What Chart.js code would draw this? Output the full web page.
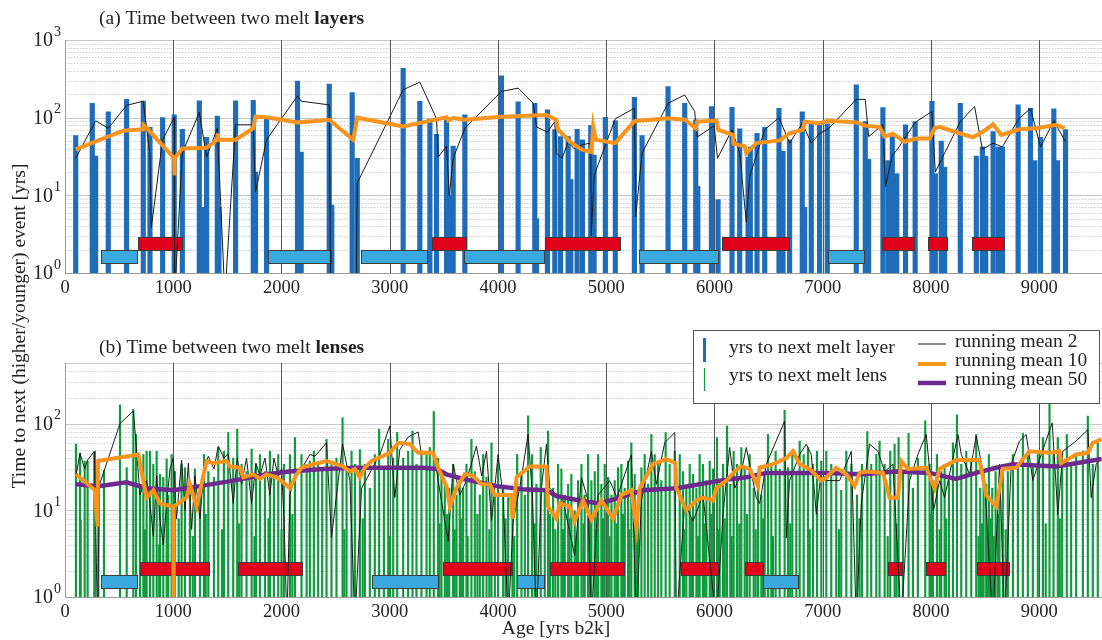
<!DOCTYPE html>
<html>
<head>
<meta charset="utf-8">
<script src="https://cdn.jsdelivr.net/npm/chart.js@4.4.1/dist/chart.umd.min.js"></script>
<style>
  body { margin: 0; background: #fff; width: 1102px; height: 640px; overflow: hidden; position: relative; }
  canvas { position: absolute; left: 0; top: 0; }
</style>
</head>
<body>
<canvas id="lenses" width="1102" height="640"></canvas>
<canvas id="layers" width="1102" height="300"></canvas>
<script>
// ---- (a) melt layers ----
const layerAge = [99, 252, 283, 400, 569, 723, 785, 902, 1009, 1084, 1241, 1262, 1308, 1407, 1422, 1576, 1739, 1760, 1862, 2148,
  2182, 2441, 2465, 2653, 2700, 3124, 3278, 3371, 3432, 3525, 3550, 3586, 3694, 4032, 4186, 4340, 4356, 4457, 4525, 4578,
  4648, 4673, 4731, 4780, 4857, 4888, 4992, 5084, 5260, 5331, 5571, 5725, 5827, 5846, 5972, 6033, 6162, 6233, 6310, 6331,
  6393, 6464, 6596, 6633, 6694, 6811, 6833, 6894, 6971, 7042, 7310, 7393, 7424, 7556, 7603, 7643, 7684, 7765, 7854, 8009,
  8040, 8095, 8126, 8271, 8419, 8475, 8506, 8574, 8620, 8660, 8805, 8919, 8959, 9012, 9135, 9169, 9243];
const layerGap = [59, 153, 32, 119, 172, 163, 75, 100, 109, 71, 165, 7, 56, 105, 7, 165, 167, 20, 96, 295,
  36, 270, 7.5, 210, 30, 433, 162, 96, 61, 94, 10, 43, 109, 345, 160, 153, 5, 126, 70, 57,
  57, 16, 71, 52, 79, 33, 101, 91, 183, 59, 251, 153, 94, 13, 139, 8.8, 136, 72, 31, 42,
  63, 75, 132, 37, 52, 119, 7, 87, 85, 83, 265, 89, 29, 135, 28, 57, 19, 81, 89, 162,
  19, 50, 23, 153, 32, 42, 32, 66, 42, 42, 146, 132, 28, 56, 130, 28, 70];

const layMean2Age = [99, 283, 400, 569, 723, 785, 797, 902, 1009, 1012, 1084, 1241, 1308, 1407, 1477, 1576, 1739, 1760, 1862, 2148,
  2182, 2441, 2455, 2690, 2700, 3124, 3278, 3432, 3448, 3525, 3550, 3586, 3694, 4032, 4186, 4325, 4356, 4457, 4525, 4539,
  4592, 4649, 4700, 4780, 4857, 4862, 4888, 5084, 5260, 5272, 5331, 5571, 5725, 5817, 5840, 5997, 6028, 6162, 6233, 6294,
  6325, 6464, 6596, 6694, 6811, 6894, 6971, 7048, 7310, 7393, 7424, 7556, 7580, 7643, 7684, 7854, 8009, 8040, 8126, 8271,
  8403, 8475, 8574, 8660, 8805, 8919, 9012, 9135, 9243];
const layMean2 = [30, 91, 73, 144, 163, 33, 3.8, 52, 101, 0.5, 35, 117, 31, 73, 0.5, 81, 81, 11, 52, 191,
  163, 146, 0.5, 0.5, 14.4, 229, 287, 97, 31, 43, 10, 30, 73, 218, 240, 153, 76, 65, 89, 35,
  30, 49, 40, 45, 47, 3, 18, 97, 132, 5.3, 35, 153, 196, 120, 56, 79, 30, 70, 35, 4.5,
  17.6, 70, 100, 47, 85, 47, 63, 71, 172, 172, 57, 81, 13, 33, 38, 87, 120, 20, 35, 89,
  139, 39, 47, 42, 94, 132, 42, 91, 49];

const layMean10Age = [99, 537, 723, 726, 769, 785, 1009, 1010, 1014, 1084, 1308, 1407, 1410, 1414, 1576, 1739, 1760, 1862, 2148, 2351,
  2441, 2663, 2700, 3124, 3371, 3525, 3540, 3586, 3694, 4032, 4448, 4539, 4555, 4649, 4663, 4771, 4862, 4880, 4902, 5084,
  5260, 5571, 5725, 5827, 5840, 6018, 6033, 6171, 6175, 6279, 6294, 6387, 6602, 6694, 6817, 6833, 6971, 7048, 7310, 7393,
  7525, 7572, 7649, 7756, 7864, 7987, 8033, 8079, 8264, 8387, 8479, 8574, 8650, 8820, 8974, 9158, 9235];
const layMean10 = [39, 68, 71, 80, 71, 66, 30, 18, 30, 40, 41, 52, 63, 52, 52, 73, 103, 101, 87, 91,
  94, 52, 100, 77, 91, 101, 92, 99, 94, 103, 108, 94, 70, 52, 49, 39, 36, 77, 52, 47,
  90, 98, 94, 73, 89, 92, 70, 60, 46, 43, 35, 47, 51, 63, 70, 89, 85, 91, 87, 79,
  76, 57, 62, 49, 54, 54, 73, 76, 63, 56, 66, 82, 60, 71, 73, 81, 73];

const layerRed = [[671, 1078], [3392, 3700], [4432, 5125], [6073, 6688], [7547, 7842], [7971, 8144], [8378, 8673]];
const layerBlue = [[332, 667], [1877, 2456], [2730, 3345], [3687, 4426], [5303, 6036], [7048, 7380]];

// ---- (b) melt lenses ----
const lensAge = [
  101, 139, 145, 182, 209, 271, 276, 308, 360, 508,
  570, 631, 656, 693, 724, 754, 785, 816, 847, 877,
  908, 939, 954, 985, 1016, 1077, 1108, 1154, 1200, 1247,
  1284, 1324, 1376, 1416, 1468, 1508, 1554, 1591, 1631, 1677,
  1724, 1764, 1801, 1847, 1893, 1930, 1970, 2022, 2078, 2124,
  740, 870, 1050, 1180, 1300, 1450, 1610, 1750, 1880, 2000,
  2185, 2232, 2262, 2299, 2339, 2376, 2416, 2462, 2508, 2564,
  2601, 2647, 2678, 2724, 2770, 2816, 2862, 2902, 2946, 2986,
  3032, 3069, 3124, 3170, 3210, 3247, 3293, 3340, 3370, 3407,
  3447, 3478, 3509, 3549, 3586, 3617, 3647, 3678, 3709, 3755,
  3786, 3832, 3863, 3894, 3940, 3971, 4001, 4048, 4094, 4134,
  4177, 4217, 4248, 4278, 4315, 4355, 4395, 4432, 4463, 4509,
  4555, 2100, 2580, 2750, 3000, 3460, 3530, 3600, 3660, 3720,
  3810, 3920, 4070, 4150, 4340, 4480, 4530, 4600, 4660, 4725,
  4586, 4617, 4648, 4678, 4709, 4740, 4771, 4801, 4832, 4863,
  4894, 4925, 4955, 4986, 5017, 5048, 5078, 5109, 5140, 5171,
  5202, 5232, 5263, 5294, 5325, 5355, 5386, 5417, 5448, 5479,
  5509, 5549, 5586, 5633, 5679, 5709, 5740, 5771, 5802, 5833,
  5863, 5894, 5925, 5956, 5986, 6023, 6048, 6079, 6116, 6146,
  6177, 6208, 6248, 6279, 6325, 6362, 6402, 6433, 6464, 6494,
  6525, 6565, 6602, 6648, 6679, 6719, 6756, 6787, 6824, 6864,
  6910, 6947, 6987, 7033, 4790, 4850, 4910, 4970, 5030, 5095,
  5155, 5215, 5280, 5720, 5785, 5850, 5910, 5970, 6035, 6095,
  6160, 6230, 6300, 6380, 6450, 6540, 6700, 6880, 7150, 7340,
  7079, 7125, 7171, 7218, 7264, 7316, 7362, 7412, 7448, 7495,
  7525, 7572, 7624, 7664, 7701, 7741, 7793, 7833, 7879, 7947,
  7987, 8018, 8055, 8095, 8126, 8166, 8203, 8240, 8280, 8326,
  8372, 8418, 8455, 8486, 8510, 8535, 8566, 8597, 8633, 8664,
  8710, 8757, 8803, 8849, 8895, 8941, 8987, 9034, 9095, 9132,
  9172, 9212, 9255, 9295, 9341, 9403, 9449, 9495, 9541, 7600,
  7680, 8000, 8080, 8140, 8440, 8470, 8520, 8550, 8580, 8620,
  8690, 9060, 9190];
const lensGap = [
  58, 46, 7.7, 37, 37, 46, 48, 22, 29, 164,
  31, 146, 75, 18, 44, 48, 48, 34, 48, 26,
  24, 39, 15, 44, 28, 34, 31, 15, 30, 15,
  44, 28, 24, 53, 48, 79, 40, 86, 34, 28,
  51, 34, 44, 28, 48, 28, 44, 34, 44, 69,
  6, 4, 8, 5, 9, 6, 7, 5, 8, 6,
  44, 34, 37, 48, 34, 31, 66, 34, 40, 117,
  31, 48, 34, 50, 34, 18, 44, 86, 31, 66,
  40, 79, 40, 48, 82, 34, 48, 44, 53, 138,
  40, 26, 20, 18, 34, 15, 22, 18, 34, 66,
  28, 15, 44, 24, 60, 15, 34, 18, 14, 12,
  44, 28, 15, 123, 44, 20, 53, 18, 82, 18,
  34, 9, 6, 8, 5, 7, 9, 6, 8, 5,
  9, 6, 8, 5, 7, 9, 6, 6, 8, 5,
  30, 15, 20, 26, 9.8, 22, 34, 15, 44, 22,
  28, 44, 20, 34, 24, 15, 22, 31, 34, 18,
  37, 60, 26, 15, 31, 44, 20, 75, 44, 34,
  22, 79, 34, 48, 44, 28, 18, 34, 26, 18,
  44, 34, 22, 37, 30, 69, 22, 34, 94, 20,
  48, 34, 53, 31, 44, 18, 28, 15, 26, 75,
  34, 48, 30, 143, 31, 48, 26, 63, 44, 53,
  34, 48, 37, 48, 7, 9, 6, 8, 5, 7,
  9, 6, 8, 6, 8, 5, 7, 9, 6, 8,
  5, 7, 9, 6, 8, 5, 7, 6, 6, 8,
  34, 28, 17, 48, 34, 15, 34, 81, 34, 44,
  63, 34, 48, 58, 69, 28, 77, 18, 40, 108,
  34, 22, 44, 28, 34, 22, 60, 126, 34, 48,
  37, 75, 18, 28, 20, 44, 18, 28, 22, 34,
  28, 44, 34, 77, 48, 34, 44, 69, 168, 44,
  69, 34, 75, 34, 44, 48, 122, 34, 63, 5,
  7, 9, 6, 8, 5, 7, 6, 8, 5, 9,
  6, 7, 8];

const lensMean2Age = [
  101, 139, 182, 209, 271, 290, 300, 320, 508, 631,
  656, 693, 724, 754, 785, 816, 847, 877, 908, 939,
  970, 1000, 1030, 1077, 1108, 1140, 1170, 1200, 1247, 1284,
  1324, 1376, 1416, 1468, 1508, 1554, 1591, 1631, 1677, 1724,
  1764, 1801, 1847, 1893, 1930, 1970, 2000, 2022, 2050, 2078,
  2124, 2185, 2262, 2308, 2416, 2462, 2564, 2632, 2678, 2740,
  2909, 3001, 3047, 3093, 3170, 3262, 3293, 3407, 3447, 3540,
  3586, 3647, 3709, 3801, 3850, 3894, 3940, 4001, 4048, 4094,
  4140, 4201, 4278, 4318, 4355, 4401, 4448, 4478, 4601, 4709,
  4771, 4832, 4863, 4925, 5032, 5100, 5232, 5279, 5325, 5417,
  5463, 5540, 5633, 5648, 5725, 5802, 5894, 6017, 6079, 6140,
  6187, 6240, 6294, 6386, 6417, 6479, 6648, 6664, 6694, 6787,
  6848, 6894, 6941, 6987, 7033, 7156, 7264, 7310, 7356, 7433,
  7510, 7572, 7649, 7725, 7802, 7879, 7956, 8024, 8080, 8126,
  8249, 8280, 8356, 8418, 8495, 8572, 8633, 8680, 8741, 8818,
  8880, 8941, 9018, 9120, 9172, 9218, 9341, 9449, 9480, 9526,
  9575];
const lensMean2 = [
  25, 45, 30, 38, 48, 2.5, 0.5, 20, 100, 140,
  60, 15, 20, 22, 12, 5, 25, 8, 4, 12,
  30, 40, 8, 38, 10, 35, 6, 25, 8, 30,
  42, 30, 55, 40, 45, 12, 40, 20, 40, 12,
  35, 25, 40, 15, 40, 25, 30, 9, 0.5, 15,
  25, 30, 44, 42, 60, 4.8, 58, 22, 0.5, 18,
  44, 94, 14, 50, 70, 80, 44, 48, 22, 4.4,
  34, 15, 22, 55, 25, 48, 7.5, 44, 14, 0.5,
  7.5, 18, 75, 15, 0.5, 18, 58, 18, 13, 3,
  24, 13, 0.5, 15, 22, 14, 44, 0.5, 13, 48,
  20, 60, 79, 0.5, 12, 7.5, 15, 0.5, 9, 53,
  18, 25, 53, 14, 12, 34, 107, 4.8, 22, 44,
  58, 44, 9, 28, 22, 22, 48, 0.5, 12, 58,
  48, 28, 34, 0.5, 22, 44, 75, 10, 22, 14,
  75, 44, 26, 72, 22, 0.5, 34, 0.5, 34, 63,
  75, 22, 44, 102, 9, 48, 63, 85, 14, 34,
  40];

const lensMean10Age = [
  101, 277, 300, 306, 677, 693, 754, 816, 877, 1000,
  1002, 1006, 1123, 1154, 1216, 1308, 1370, 1493, 1524, 1616,
  1647, 1739, 1801, 1862, 1954, 2016, 2078, 2139, 2185, 2293,
  2416, 2478, 2570, 2632, 2678, 2724, 2770, 2832, 3001, 3078,
  3186, 3262, 3401, 3447, 3524, 3555, 3617, 3693, 3770, 3847,
  3924, 3971, 4032, 4120, 4134, 4171, 4294, 4448, 4463, 4540,
  4570, 4663, 4709, 4786, 4863, 4955, 5063, 5140, 5232, 5279,
  5309, 5432, 5555, 5640, 5648, 5740, 5833, 5894, 5986, 6017,
  6110, 6187, 6248, 6325, 6402, 6417, 6540, 6664, 6725, 6787,
  6879, 6987, 7033, 7125, 7218, 7294, 7341, 7402, 7556, 7618,
  7695, 7725, 7787, 7956, 8033, 8080, 8233, 8449, 8510, 8603,
  8664, 8787, 8910, 9095, 9187, 9203, 9341, 9449, 9495, 9575];
const lensMean10 = [
  26, 17, 6.5, 37, 44, 34, 14, 17, 12, 11,
  0.5, 11, 14, 20, 11, 37, 35, 37, 32, 31,
  24, 26, 23, 26, 24, 21, 18, 26, 31, 34,
  37, 35, 32, 28, 30, 24, 31, 37, 46, 60,
  58, 46, 46, 31, 19, 11, 18, 26, 25, 20,
  20, 15, 15, 15, 8, 24, 32, 32, 11, 8,
  12, 11, 7.5, 13, 7.8, 13, 8, 15, 17, 6.3,
  18, 34, 39, 35, 18, 10, 13, 14, 13, 18,
  22, 28, 32, 30, 19, 31, 34, 40, 48, 34,
  30, 22, 24, 31, 26, 19, 27, 28, 27, 14,
  14, 37, 30, 31, 18, 30, 38, 38, 15, 11,
  30, 31, 48, 46, 48, 35, 44, 46, 60, 66];

const lensMean50Age = [101, 308, 570, 754, 1000, 1247, 1554, 1862, 2078, 2385,
  2693, 3001, 3309, 3432, 3524, 3678, 3832, 3986, 4232, 4448,
  4540, 4755, 4940, 5125, 5340, 5648, 5863, 6048, 6294, 6479,
  6725, 7033, 7371, 7679, 7987, 8233, 8418, 8603, 8757, 9157,
  9464, 9575];
const lensMean50 = [20, 19, 21, 18, 17, 19, 22, 26, 28, 30,
  31, 31, 31, 30, 26, 23, 21, 19, 17.5, 17,
  14.6, 13, 12, 14, 17, 18, 20, 22, 24, 27,
  27, 27, 26, 28, 27, 23, 27, 31, 34, 32,
  37, 39];

const lensRed = [[692, 1333], [1595, 2185], [3494, 4130], [4478, 5164], [5691, 6032], [6279, 6448], [7602, 7735], [7956, 8125], [8424, 8717]];
const lensBlue = [[332, 668], [2838, 3447], [4177, 4426], [6448, 6771]];

const xTicks = [0, 1000, 2000, 3000, 4000, 5000, 6000, 7000, 8000, 9000];

const SERIF = 'Liberation Serif';
const X_MAX = 9580;
const BLUE = '#1f6cb8', GREEN = '#109a3e', ORANGE = '#f7941d', PURPLE = '#6b2a8c', BLACK = '#1a1a1a';
const RED_BOX = '#e2001a', BLUE_BOX = '#39a9df';

const pts = (xs, ys) => xs.slice(0, Math.min(xs.length, ys.length)).map((x, i) => ({ x, y: ys[i] }));
const font = (size, bold) => (bold ? 'bold ' : '') + size + 'px "' + SERIF + '"';

const decor = {
  id: 'decor',
  beforeDatasetsDraw(chart) {
    const { ctx, chartArea: a, scales: { x, y } } = chart;
    ctx.save();
    ctx.lineWidth = 1;
    for (let e = 0; e <= 3; e++) {
      for (let m = 1; m <= 9; m++) {
        const v = m * Math.pow(10, e);
        if (v > y.max + 1e-6) continue;
        const py = Math.round(y.getPixelForValue(v)) + 0.5;
        ctx.beginPath();
        ctx.setLineDash(m === 1 ? [] : [1.5, 1.5]);
        ctx.strokeStyle = m === 1 ? '#c8c8c8' : '#cdcdcd';
        ctx.moveTo(a.left, py); ctx.lineTo(a.right, py); ctx.stroke();
      }
    }
    ctx.setLineDash([]);
    ctx.strokeStyle = '#c8c8c8';
    ctx.beginPath(); ctx.moveTo(a.left, a.top + 0.5); ctx.lineTo(a.right, a.top + 0.5); ctx.stroke();
    ctx.strokeStyle = '#555';
    xTicks.forEach(v => {
      if (v <= 0) return;
      const px = Math.round(x.getPixelForValue(v)) + 0.5;
      ctx.beginPath(); ctx.moveTo(px, a.top); ctx.lineTo(px, a.bottom); ctx.stroke();
    });
    ctx.strokeStyle = '#9a9a9a';
    ctx.beginPath();
    ctx.moveTo(a.left + 0.5, a.top); ctx.lineTo(a.left + 0.5, a.bottom + 0.5); ctx.lineTo(a.right, a.bottom + 0.5);
    ctx.stroke();
    ctx.restore();
  },
  afterDatasetDraw(chart, args, o) {
    if (chart.data.datasets[args.index].type !== 'bar') return;
    const { ctx, scales: { x, y } } = chart;
    ctx.save();
    const draw = (spans, lo, hi, fill) => spans.forEach(([s, e]) => {
      const x0 = Math.round(x.getPixelForValue(s)) + 0.5, x1 = Math.round(x.getPixelForValue(e)) + 0.5;
      const y0 = Math.round(y.getPixelForValue(hi)) + 0.5, y1 = Math.round(y.getPixelForValue(lo)) + 0.5;
      ctx.fillStyle = fill; ctx.fillRect(x0, y0, x1 - x0, y1 - y0);
      ctx.strokeStyle = '#3c3c3c'; ctx.lineWidth = 1; ctx.strokeRect(x0, y0, x1 - x0, y1 - y0);
    });
    draw(o.blue, o.blueY[0], o.blueY[1], BLUE_BOX);
    draw(o.red, o.redY[0], o.redY[1], RED_BOX);
    ctx.restore();
  },
  afterDraw(chart, args, o) {
    const { ctx, scales: { y } } = chart;
    ctx.save();
    ctx.fillStyle = '#222';
    ctx.textBaseline = 'middle';
    for (let e = 0; e <= 3; e++) {
      if (Math.pow(10, e) > y.max) continue;
      const py = y.getPixelForValue(Math.pow(10, e));
      ctx.font = font(20);
      ctx.textAlign = 'right';
      ctx.fillText('10', 53, py + 1);
      ctx.font = font(14);
      ctx.textAlign = 'left';
      ctx.fillText(String(e), 54, py - 8);
    }
    // panel title, last word bold
    ctx.textAlign = 'left';
    ctx.font = font(19.5);
    ctx.fillText(o.title, 99, o.titleY);
    const w = ctx.measureText(o.title).width;
    ctx.font = font(19.5, true);
    ctx.fillText(o.titleBold, 99 + w, o.titleY);
    ctx.restore();
  }
};

const lensExtras = {
  id: 'lensExtras',
  afterDraw(chart) {
    const { ctx } = chart;
    ctx.save();
    ctx.fillStyle = '#222';
    ctx.textBaseline = 'middle';
    ctx.textAlign = 'center';
    ctx.font = font(19.5);
    ctx.fillText('Age [yrs b2k]', 556, 629);
    ctx.translate(20, 326);
    ctx.rotate(-Math.PI / 2);
    ctx.fillText('Time to next (higher/younger) event [yrs]', 0, 0);
    ctx.restore();

    // legend
    ctx.save();
    ctx.fillStyle = '#fff';
    ctx.fillRect(693.5, 330.5, 406, 73);
    ctx.strokeStyle = '#555'; ctx.lineWidth = 1;
    ctx.strokeRect(693.5, 330.5, 406, 73);
    const vline = (x, y0, y1, c, w) => { ctx.strokeStyle = c; ctx.lineWidth = w; ctx.beginPath(); ctx.moveTo(x, y0); ctx.lineTo(x, y1); ctx.stroke(); };
    const hline = (y, c, w) => { ctx.strokeStyle = c; ctx.lineWidth = w; ctx.beginPath(); ctx.moveTo(918, y); ctx.lineTo(946, y); ctx.stroke(); };
    vline(704.5, 338, 362, BLUE, 3);
    vline(704.5, 368, 391, GREEN, 1.2);
    hline(344, BLACK, 1);
    hline(364, ORANGE, 4);
    hline(383, PURPLE, 4.5);
    ctx.fillStyle = '#222';
    ctx.textBaseline = 'middle';
    ctx.textAlign = 'left';
    ctx.font = font(19.5);
    ctx.fillText('yrs to next melt layer', 729, 348);
    ctx.fillText('yrs to next melt lens', 729, 376);
    ctx.fillText('running mean 2', 955, 342);
    ctx.fillText('running mean 10', 955, 361);
    ctx.fillText('running mean 50', 955, 380);
    ctx.restore();
  }
};

function xScale(h) {
  return {
    type: 'linear', min: 0, max: X_MAX, offset: false,
    grid: { display: false, drawTicks: false }, border: { display: false },
    afterBuildTicks: s => { s.ticks = xTicks.map(v => ({ value: v })); },
    ticks: { maxRotation: 0, autoSkip: false, padding: 4, color: '#222', font: { family: SERIF, size: 18.5 }, callback: v => String(v) },
    afterFit: s => { s.height = h; }
  };
}
function yScale(max) {
  return {
    type: 'logarithmic', min: 1, max,
    grid: { display: false }, border: { display: false },
    ticks: { display: false },
    afterFit: s => { s.width = 65; }
  };
}
const line = (data, color, width, order) => ({
  type: 'line', data, borderColor: color, borderWidth: width, pointRadius: 0, tension: 0, fill: false, order
});

new Chart(document.getElementById('lenses'), {
  type: 'bar',
  data: {
    datasets: [
      line(pts(lensMean10Age, lensMean10), ORANGE, 4, 0),
      line(pts(lensMean50Age, lensMean50), PURPLE, 4.5, 1),
      line(pts(lensMean2Age, lensMean2), BLACK, 1, 2),
      { type: 'bar', label: 'yrs to next melt lens', data: pts(lensAge, lensGap), backgroundColor: GREEN, barThickness: 1.5, order: 3 }
    ]
  },
  options: {
    responsive: false, animation: false, devicePixelRatio: 1, events: [],
    layout: { padding: { top: 363, left: 0, right: 0, bottom: 0 } },
    scales: { x: xScale(43), y: yScale(500) },
    plugins: {
      legend: { display: false }, tooltip: { enabled: false },
      decor: { red: lensRed, blue: lensBlue, redY: [1.8, 2.55], blueY: [1.27, 1.8], title: '(b) Time between two melt ', titleBold: 'lenses', titleY: 348 }
    }
  },
  plugins: [decor, lensExtras]
});

new Chart(document.getElementById('layers'), {
  type: 'bar',
  data: {
    datasets: [
      line(pts(layMean10Age, layMean10), ORANGE, 4, 0),
      line(pts(layMean2Age, layMean2), BLACK, 1, 1),
      { type: 'bar', label: 'yrs to next melt layer', data: pts(layerAge, layerGap), backgroundColor: BLUE, barThickness: 4.5, order: 3 }
    ]
  },
  options: {
    responsive: false, animation: false, devicePixelRatio: 1, events: [],
    layout: { padding: { top: 40, left: 0, right: 0, bottom: 0 } },
    scales: { x: xScale(27), y: yScale(1000) },
    plugins: {
      legend: { display: false }, tooltip: { enabled: false },
      decor: { red: layerRed, blue: layerBlue, redY: [2, 2.95], blueY: [1.35, 2], title: '(a) Time between two melt ', titleBold: 'layers', titleY: 19 }
    }
  },
  plugins: [decor]
});
</script>
</body>
</html>
